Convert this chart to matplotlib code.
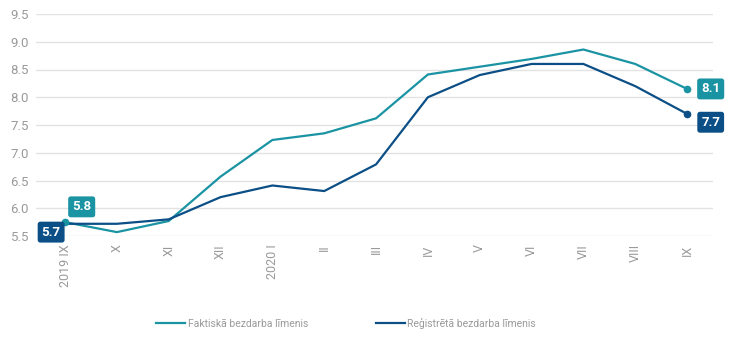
import matplotlib.pyplot as plt

# dati
months = ["2019 IX", "X", "XI", "XII", "2020 I", "II", "III", "IV", "V", "VI", "VII", "VIII", "IX"]
faktiska = [5.75, 5.57, 5.77, 6.57, 7.23, 7.35, 7.62, 8.41, 8.55, 8.69, 8.86, 8.60, 8.15]
registreta = [5.72, 5.72, 5.80, 6.20, 6.41, 6.31, 6.79, 8.00, 8.40, 8.60, 8.60, 8.20, 7.70]
start_labels = ["5.8", "5.7"]
end_labels = ["8.1", "7.7"]

teal = "#1a93a3"
navy = "#0b4f86"
grey = "#9a9a9a"

plt.rcParams["font.family"] = ["Roboto", "DejaVu Sans"]

fig = plt.figure(figsize=(7.3, 3.62), dpi=100)
ax = fig.add_axes([36 / 730, 1 - 236 / 362, (713 - 36) / 730, (236 - 14) / 362])

x = list(range(len(months)))
ax.plot(x, faktiska, color=teal, lw=1.6, label="Faktiskā bezdarba līmenis", zorder=3)
ax.plot(x, registreta, color=navy, lw=1.6, label="Reģistrētā bezdarba līmenis", zorder=3)

# marķieri sākumā un beigās
ax.plot([x[0], x[-1]], [faktiska[0], faktiska[-1]], "o", color=teal, ms=4.5, zorder=4, clip_on=False)
ax.plot([x[-1]], [registreta[-1]], "o", color=navy, ms=4.5, zorder=4, clip_on=False)

box = dict(boxstyle="round,pad=0.3,rounding_size=0.2", ec="none")
ax.annotate(start_labels[0], (x[0], faktiska[0]), xytext=(12, 11), textcoords="offset points",
            ha="center", va="center", color="white", fontsize=9.5, fontweight="bold",
            bbox=dict(box, fc=teal), zorder=5, annotation_clip=False)
ax.annotate(start_labels[1], (x[0], registreta[0]), xytext=(-10, -6), textcoords="offset points",
            ha="center", va="center", color="white", fontsize=9.5, fontweight="bold",
            bbox=dict(box, fc=navy), zorder=5, annotation_clip=False)
ax.annotate(end_labels[0], (x[-1], faktiska[-1]), xytext=(17, 0), textcoords="offset points",
            ha="center", va="center", color="white", fontsize=9.5, fontweight="bold",
            bbox=dict(box, fc=teal), zorder=5, annotation_clip=False)
ax.annotate(end_labels[1], (x[-1], registreta[-1]), xytext=(17, -6), textcoords="offset points",
            ha="center", va="center", color="white", fontsize=9.5, fontweight="bold",
            bbox=dict(box, fc=navy), zorder=5, annotation_clip=False)

ax.set_ylim(5.5, 9.5)
ax.set_yticks([5.5, 6.0, 6.5, 7.0, 7.5, 8.0, 8.5, 9.0, 9.5])
ax.set_xlim(-0.56, 12.5)
ax.set_xticks(x)
ax.set_xticklabels(months, rotation=90, va="top")
ax.tick_params(axis="both", length=0, colors=grey, labelsize=9)
ax.tick_params(axis="x", pad=6)
ax.tick_params(axis="y", pad=5, labelsize=9.5)
ax.grid(axis="y", color="#e3e3e3", lw=1)
ax.set_axisbelow(True)
for s in ax.spines.values():
    s.set_visible(False)

leg = fig.legend(loc="center", bbox_to_anchor=(346 / 730, 1 - 323 / 362), ncol=2, frameon=False,
                 fontsize=7.5, handlelength=2.8, handletextpad=0.2, columnspacing=6.5)
for t in leg.get_texts():
    t.set_color(grey)

fig.savefig("out.png", dpi=100)
